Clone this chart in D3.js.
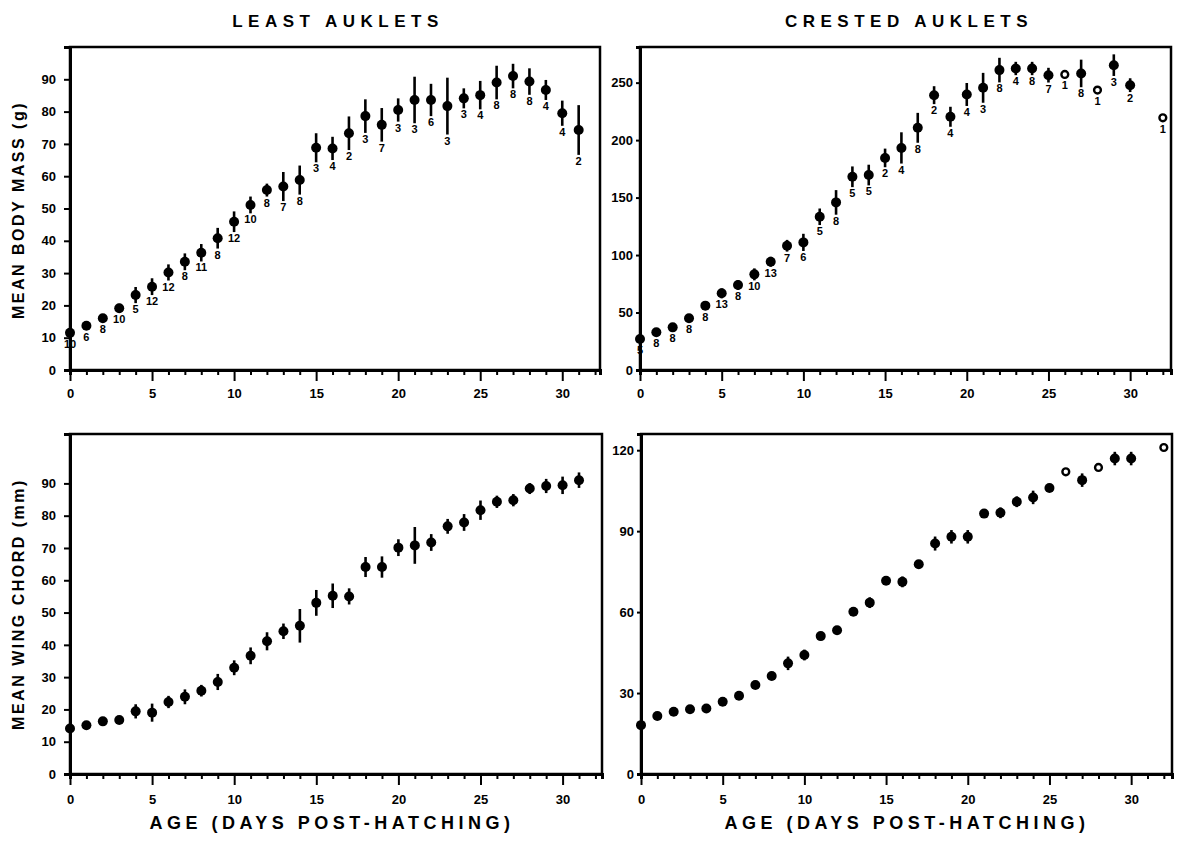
<!DOCTYPE html>
<html>
<head>
<meta charset="utf-8">
<script src="https://cdn.jsdelivr.net/npm/d3@7"></script>
<style>
  html, body { margin: 0; padding: 0; background: #fff; }
  svg { display: block; }
  text { font-family: "Liberation Sans", Arial, Helvetica, sans-serif; font-weight: bold; fill: #000; }
</style>
</head>
<body>
<svg id="chart" width="1177" height="846"></svg>
<script>
// ---------------- DATA ----------------
const leastDays = [0,1,2,3,4,5,6,7,8,9,10,11,12,13,14,15,16,17,18,19,20,21,22,23,24,25,26,27,28,29,30,31];
const leastMass = [11.5,13.7,16.0,19.1,23.2,25.8,30.2,33.5,36.3,40.8,45.9,51.1,55.7,56.8,58.8,68.8,68.6,73.3,78.6,75.9,80.5,83.6,83.6,81.7,84.1,85.1,89.0,91.0,89.3,86.7,79.5,74.3];
const leastMassSD = [1.2,0.6,1.2,1.4,2.5,2.6,2.5,2.6,2.7,3.2,3.2,2.6,2.0,4.5,4.5,4.5,3.6,5.2,5.2,5.2,3.6,7.2,5.0,8.8,3.1,4.4,5.2,3.8,4.1,3.1,3.9,7.7];
const leastN = ["10","6","8","10","5","12","12","8","11","8","12","10","8","7","8","3","4","2","3","7","3","3","6","3","3","4","8","8","8","4","4","2"];
const leastWing = [14.1,15.1,16.3,16.7,19.4,19.0,22.3,23.9,25.8,28.5,32.9,36.6,41.1,44.2,45.9,53.0,55.2,55.0,64.1,64.1,70.1,70.8,71.7,76.7,77.9,81.7,84.3,84.8,88.4,89.2,89.4,91.0];
const leastWingSD = [1.0,0,0,0,2.2,2.8,1.9,2.3,1.8,2.5,2.3,2.6,2.8,2.4,5.2,4.0,3.8,2.5,3.1,3.3,2.6,5.7,2.6,2.3,2.6,3.0,1.9,1.9,1.7,2.2,2.7,2.4];

const crestedDays = [0,1,2,3,4,5,6,7,8,9,10,11,12,13,14,15,16,17,18,19,20,21,22,23,24,25,26,27,28,29,30,32];
const crestedMass = [27,32.8,37.1,45,56,66.7,73.9,83.2,94.2,108.1,111.0,133.3,145.8,168.1,169.6,184.5,193.2,210.7,239.1,220.3,239.7,245.5,260.9,262.3,262.3,256.5,257.1,258,243.5,265.2,247.8,219.4];
const crestedMassSD = [3,2.3,3.5,3,3.5,4.3,4.3,5.2,4.3,5.1,7.5,7.2,10.7,9,9,8.1,13.6,13,7.8,8.7,10,13,10.7,5.8,5.8,6.4,0,12,0,9.4,6,0];
const crestedN = ["5","8","8","8","8","13","8","10","13","7","6","5","8","5","5","2","4","8","2","4","4","3","8","4","8","7","1","8","1","3","2","1"];
const crestedWing = [18.1,21.5,23.1,24.0,24.3,26.8,29.0,33.0,36.3,41.0,44.1,51.1,53.3,60.1,63.5,71.6,71.2,77.7,85.4,87.9,87.9,96.5,96.8,100.9,102.5,106.0,112.0,108.9,113.6,116.9,116.9,121.0];
const crestedWingSD = [0,0,0,0,0,0,0,1.5,1.5,2.5,2,1.5,1.5,1.5,2,1.5,2,1.5,2.6,2.5,2.5,0,2,2,2.5,1.5,0,2.5,0,2.5,2.5,0];

const xTickValues = [0,5,10,15,20,25,30];
const leastMassTicks = [0,10,20,30,40,50,60,70,80,90];
const crestedMassTicks = [0,50,100,150,200,250];
const leastWingTicks = [0,10,20,30,40,50,60,70,80,90];
const crestedWingTicks = [0,30,60,90,120];

const panelTitles = ["LEAST AUKLETS", "CRESTED AUKLETS"];
const yTitles = ["MEAN BODY MASS (g)", "MEAN WING CHORD (mm)"];
const xTitle = "AGE (DAYS POST-HATCHING)";

// ---------------- DRAW ----------------
const svg = d3.select("#chart");
svg.append("rect").attr("width", 1177).attr("height", 846).attr("fill", "#fff");

function drawPanel(cfg) {
  const g = svg.append("g");
  const x = d3.scaleLinear().domain(cfg.xDomain).range([cfg.left, cfg.right]);
  const y = d3.scaleLinear().domain(cfg.yDomain).range([cfg.bottom, cfg.top]);

  // frame
  g.append("rect")
    .attr("x", cfg.left).attr("y", cfg.top)
    .attr("width", cfg.right - cfg.left).attr("height", cfg.bottom - cfg.top)
    .attr("fill", "none").attr("stroke", "#000").attr("stroke-width", 2.5);

  // y axis
  const yAxis = d3.axisLeft(y).tickValues(cfg.yTicks).tickSize(cfg.yTickSize).tickPadding(cfg.yPad).tickFormat(d3.format("d"));
  const ya = g.append("g").attr("transform", `translate(${cfg.left},0)`).call(yAxis);
  ya.select(".domain").attr("stroke-width", 3);
  ya.selectAll(".tick line").attr("stroke-width", 2);
  ya.selectAll(".tick text").attr("font-size", 13).attr("font-weight", "bold")
    .attr("font-family", "Liberation Sans, Arial, sans-serif");

  // x axis: minor ticks every day, major ticks every 5
  const minorDays = d3.range(Math.ceil(cfg.xDomain[0]), Math.floor(cfg.xDomain[1]) + 1).filter(d => d % 5 !== 0);
  const xMinor = d3.axisBottom(x).tickValues(minorDays).tickSize(5).tickFormat("");
  const xm = g.append("g").attr("transform", `translate(0,${cfg.bottom})`).call(xMinor);
  xm.selectAll(".tick line").attr("stroke-width", 2);
  xm.select(".domain").attr("stroke-width", 3);
  const xMajor = d3.axisBottom(x).tickValues(xTickValues).tickSize(11).tickPadding(cfg.xPad).tickFormat(d3.format("d"));
  const xM = g.append("g").attr("transform", `translate(0,${cfg.bottom})`).call(xMajor);
  xM.select(".domain").remove();
  xM.selectAll(".tick line").attr("stroke-width", 2);
  xM.selectAll(".tick text").attr("font-size", 13).attr("font-weight", "bold")
    .attr("font-family", "Liberation Sans, Arial, sans-serif");

  const rows = cfg.days.map((d, i) => ({ day: d, mean: cfg.mean[i], sd: cfg.sd[i], n: cfg.n ? cfg.n[i] : null, open: cfg.open ? cfg.open[i] : false }));

  // error bars
  g.selectAll(".eb").data(rows.filter(r => r.sd > 0)).join("line")
    .attr("x1", r => x(r.day)).attr("x2", r => x(r.day))
    .attr("y1", r => y(r.mean + r.sd)).attr("y2", r => y(r.mean - r.sd))
    .attr("stroke", "#000").attr("stroke-width", 2.6);

  // markers
  g.selectAll(".pt").data(rows).join("circle")
    .attr("cx", r => x(r.day)).attr("cy", r => y(r.mean))
    .attr("r", r => r.open ? 3.4 : 5)
    .attr("fill", r => r.open ? "#fff" : "#000")
    .attr("stroke", "#000").attr("stroke-width", r => r.open ? 2.4 : 0);

  // sample sizes
  if (cfg.n) {
    g.selectAll(".nl").data(rows).join("text")
      .attr("x", r => x(r.day))
      .attr("y", r => Math.max(y(r.mean - r.sd), y(r.mean) + 5) + 10)
      .attr("text-anchor", "middle")
      .attr("font-size", 11)
      .text(r => r.n);
  }
}

const leftX = 70, leftR = 600, rightX = 640, rightR = 1171;

drawPanel({ left: leftX, right: leftR, top: 47, bottom: 370, xDomain: [0, 32.3], yDomain: [0, 100],
  yTicks: leastMassTicks, yTickSize: 6, yPad: 8, xPad: 8,
  days: leastDays, mean: leastMass, sd: leastMassSD, n: leastN });

drawPanel({ left: rightX, right: rightR, top: 47, bottom: 370, xDomain: [0, 32.5], yDomain: [0, 281],
  yTicks: crestedMassTicks, yTickSize: 4, yPad: 3, xPad: 8,
  days: crestedDays, mean: crestedMass, sd: crestedMassSD, n: crestedN, open: crestedN.map(v => v === "1") });

drawPanel({ left: leftX, right: 602, top: 434, bottom: 774, xDomain: [0, 32.4], yDomain: [0, 105.3],
  yTicks: leastWingTicks, yTickSize: 6, yPad: 8, xPad: 10,
  days: leastDays, mean: leastWing, sd: leastWingSD });

drawPanel({ left: 641, right: 1172, top: 434, bottom: 774, xDomain: [0, 32.5], yDomain: [0, 126],
  yTicks: crestedWingTicks, yTickSize: 4, yPad: 3, xPad: 10,
  days: crestedDays, mean: crestedWing, sd: crestedWingSD, open: crestedN.map(v => v === "1") });

// titles
svg.selectAll(".ptitle").data(panelTitles).join("text")
  .attr("x", (d, i) => i === 0 ? 338 : 909)
  .attr("y", 27)
  .attr("text-anchor", "middle")
  .attr("font-size", 17)
  .attr("letter-spacing", "5.5px")
  .text(d => d);

svg.selectAll(".xtitle").data([xTitle, xTitle]).join("text")
  .attr("x", (d, i) => i === 0 ? 332 : 907)
  .attr("y", 829)
  .attr("text-anchor", "middle")
  .attr("font-size", 18)
  .attr("letter-spacing", "4.5px")
  .text(d => d);

svg.selectAll(".ytitle").data(yTitles).join("text")
  .attr("transform", (d, i) => `translate(18,${i === 0 ? 210 : 604}) rotate(-90)`)
  .attr("text-anchor", "middle")
  .attr("dominant-baseline", "central")
  .attr("font-size", 16)
  .attr("letter-spacing", "2.5px")
  .text(d => d);
</script>
</body>
</html>
